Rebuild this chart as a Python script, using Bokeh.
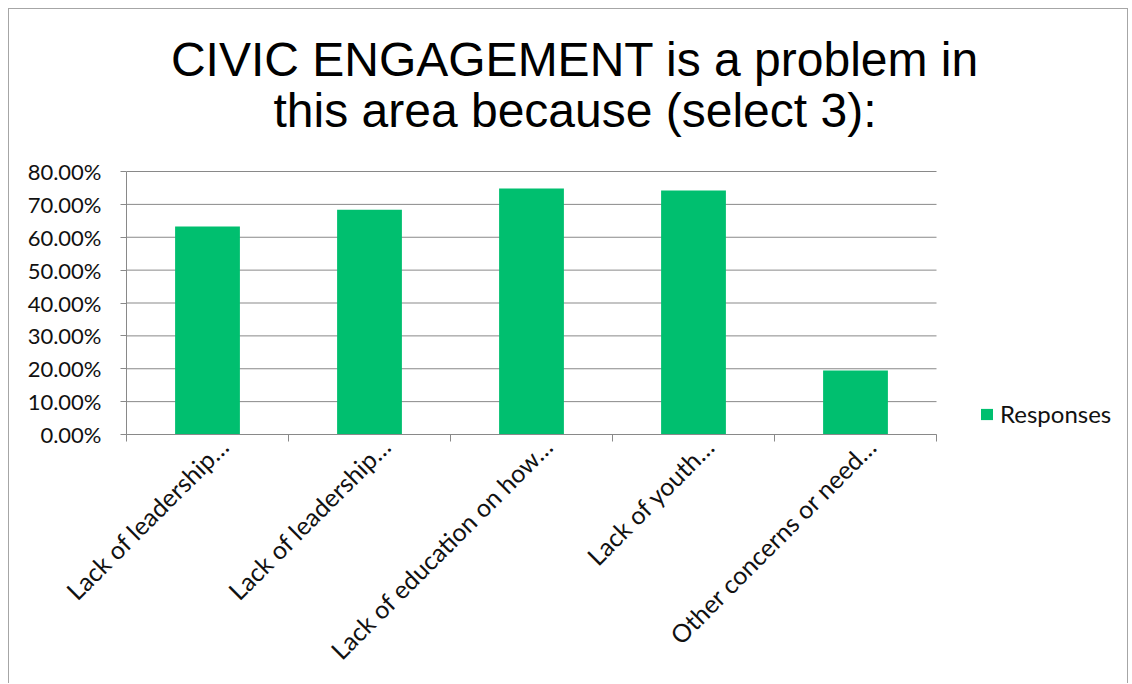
import math
from bokeh.plotting import figure
from bokeh.models import (Range1d, FixedTicker, NumeralTickFormatter, Label,
                          Legend, LegendItem)
from bokeh.embed import file_html
from bokeh.resources import INLINE

# ---- data ----
categories = ["Lack of leadership…", "Lack of leadership…",
              "Lack of education on how…", "Lack of youth…",
              "Other concerns or need…"]
responses = [0.633, 0.684, 0.748, 0.742, 0.195]
y_ticks = [0.0, 0.1, 0.2, 0.3, 0.4, 0.5, 0.6, 0.7, 0.8]
title_lines = ["CIVIC ENGAGEMENT is a problem in",
               "this area because (select 3):"]
series_name = "Responses"

n = len(categories)
centers = [i + 0.5 for i in range(n)]
bounds = [float(i) for i in range(n + 1)]
y_max = y_ticks[-1]

# ---- layout constants (pixels) ----
W, H = 1120, 675
LEFT, BOTTOM = 117, 250
FRAME_W = W - LEFT            # frame extends to the right edge
FRAME_H = H - BOTTOM          # frame extends to the top edge
PLOT_W, PLOT_H = 810, 263     # visible plot area inside the frame
LABEL_SHIFT = 0.10            # rotated label anchor shift (category units)

GRID = "#898989"
BAR = "#00BF6F"
TXT = "#111111"

p = figure(width=W, height=H, output_backend="svg", toolbar_location=None,
           x_range=Range1d(0, n * FRAME_W / PLOT_W),
           y_range=Range1d(0, y_max * FRAME_H / PLOT_H),
           min_border_left=LEFT, min_border_right=0, min_border_top=0,
           min_border_bottom=BOTTOM, title=None)
p.styles = {"border-left": "1px solid #a6a6a6", "border-top": "1px solid #a6a6a6",
            "border-right": "1px solid #a6a6a6",
            "margin-left": "8px", "margin-top": "8px"}
p.outline_line_color = None
p.background_fill_color = "white"
p.border_fill_color = "white"
p.xgrid.visible = False
p.ygrid.visible = False

# horizontal gridlines limited to the plot area
p.segment(x0=[0] * len(y_ticks), x1=[n] * len(y_ticks), y0=y_ticks, y1=y_ticks,
          line_color=GRID, line_width=1)

r = p.vbar(x=centers, top=responses, bottom=0, width=0.4,
           fill_color=BAR, line_color=None)

# x axis
xa = p.xaxis[0]
label_pos = [c + LABEL_SHIFT for c in centers]
xa.bounds = (0, n)
xa.ticker = FixedTicker(ticks=label_pos, minor_ticks=bounds)
xa.major_label_overrides = {c: lab for c, lab in zip(label_pos, categories)}
xa.major_tick_in = 0
xa.major_tick_out = 0
xa.minor_tick_in = 0
xa.minor_tick_out = 7
xa.minor_tick_line_color = GRID
xa.axis_line_color = GRID
xa.major_label_orientation = math.pi / 4
xa.major_label_standoff = 0
xa.major_label_text_font = "Lato"
xa.major_label_text_font_size = "25px"
xa.major_label_text_color = TXT

# y axis
ya = p.yaxis[0]
ya.bounds = (0, y_max)
ya.ticker = FixedTicker(ticks=y_ticks)
ya.formatter = NumeralTickFormatter(format="0.00%")
ya.major_tick_in = 0
ya.major_tick_out = 6
ya.major_tick_line_color = GRID
ya.minor_tick_line_color = None
ya.axis_line_color = GRID
ya.major_label_standoff = 19
ya.major_label_text_font = "Lato"
ya.major_label_text_font_size = "22px"
ya.major_label_text_color = TXT

# title, two centred lines
for txt, yb in zip(title_lines, [375, 324]):
    p.add_layout(Label(x=448.5, y=yb, x_units="screen", y_units="screen",
                       text=txt, text_align="center", text_baseline="alphabetic",
                       text_font="Liberation Sans", text_font_size="48px",
                       text_color="#000000"))

legend = Legend(items=[LegendItem(label=series_name, renderers=[r])],
                location=(853, 6), glyph_width=15, glyph_height=14,
                label_standoff=6, padding=0, margin=0, spacing=0,
                border_line_color=None, background_fill_alpha=0,
                label_text_font="Lato", label_text_font_size="24px",
                label_text_color=TXT, label_height=14)
p.add_layout(legend, "center")

open("out.html", "w").write(file_html(p, INLINE))
